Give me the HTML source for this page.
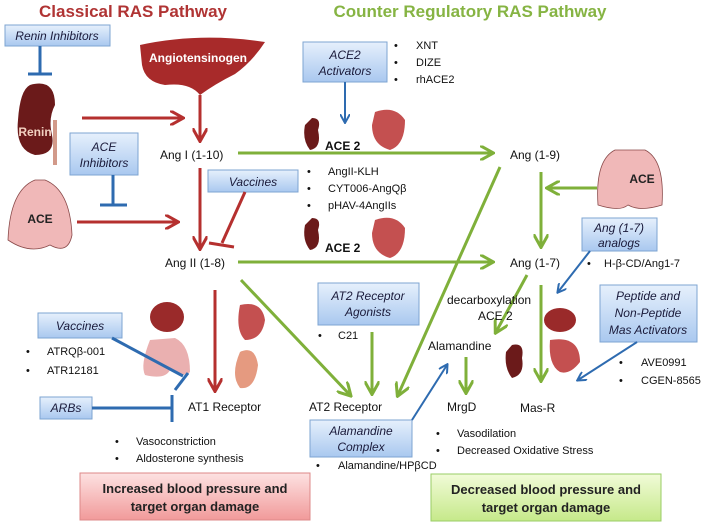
<!DOCTYPE html>
<html><head><meta charset="utf-8"><style>
html,body{margin:0;padding:0;background:#fff;}
svg{display:block;font-family:"Liberation Sans",sans-serif;}
</style></head><body>
<svg width="708" height="524" viewBox="0 0 708 524" xmlns="http://www.w3.org/2000/svg">
<defs>
<linearGradient id="bb" x1="0" y1="0" x2="0" y2="1"><stop offset="0" stop-color="#e6f0fc"/><stop offset="1" stop-color="#a9c8ef"/></linearGradient>
<linearGradient id="pk" x1="0" y1="0" x2="0" y2="1"><stop offset="0" stop-color="#fde2e2"/><stop offset="1" stop-color="#f19a9a"/></linearGradient>
<linearGradient id="gr" x1="0" y1="0" x2="0" y2="1"><stop offset="0" stop-color="#f1fbd8"/><stop offset="1" stop-color="#c6e98a"/></linearGradient>
<marker id="ar" viewBox="0 0 10 10" refX="8" refY="5" markerWidth="5" markerHeight="5" orient="auto"><path d="M0,0 L9,5 L0,10" fill="none" stroke="#b5302f" stroke-width="2"/></marker>
<marker id="ag" viewBox="0 0 10 10" refX="8" refY="5" markerWidth="5" markerHeight="5" orient="auto"><path d="M0,0 L9,5 L0,10" fill="none" stroke="#7fb03a" stroke-width="2"/></marker>
<marker id="ab" viewBox="0 0 10 10" refX="8" refY="5" markerWidth="5" markerHeight="5" orient="auto"><path d="M0,0 L9,5 L0,10" fill="none" stroke="#2e6bb0" stroke-width="2"/></marker>
</defs>
<g font-weight="bold" font-size="17">
<text x="133" y="17" text-anchor="middle" fill="#b03434">Classical RAS Pathway</text>
<text x="470" y="17" text-anchor="middle" fill="#86b443">Counter Regulatory RAS Pathway</text>
</g>
<!-- organs -->
<path d="M140,45 Q200,32 265,42 Q252,62 235,74 Q215,84 200,95 Q190,82 165,85 Q145,82 142,65 Z" fill="#a82a2a"/>
<text x="198" y="62" text-anchor="middle" font-size="12" fill="#fff" font-weight="bold">Angiotensinogen</text>
<path d="M30,85 Q55,78 55,105 Q48,118 52,135 Q56,155 35,155 Q15,150 18,120 Q20,90 30,85 Z" fill="#6b1a1a"/>
<rect x="53" y="120" width="4" height="45" fill="#d29a8a"/>
<text x="35" y="136" text-anchor="middle" font-size="12" fill="#f2d0c0" font-weight="bold">Renin</text>
<path d="M35,180 Q10,190 8,240 Q30,255 50,245 Q68,255 72,235 Q70,190 45,180 Z" fill="#f0b8b8" stroke="#8a4a4a" stroke-width="0.8"/>
<text x="40" y="223" text-anchor="middle" font-size="12" font-weight="bold" fill="#222">ACE</text>
<path d="M615,150 Q595,160 598,205 Q620,212 628,205 Q640,212 662,205 Q665,160 645,150 Z" fill="#f0b8b8" stroke="#8a4a4a" stroke-width="0.8"/>
<text x="642" y="183" text-anchor="middle" font-size="12" font-weight="bold" fill="#222">ACE</text>
<path d="M312,118 Q322,118 318,130 Q322,148 310,150 Q302,140 305,125 Z" fill="#6b1a1a"/>
<path d="M375,112 Q395,105 405,120 Q405,145 390,150 Q372,145 372,125 Z" fill="#c45050"/>
<path d="M312,218 Q322,218 318,230 Q322,248 310,250 Q302,240 305,225 Z" fill="#6b1a1a"/>
<path d="M375,220 Q395,213 405,228 Q405,253 390,258 Q372,253 372,233 Z" fill="#c45050"/>
<path d="M512,345 Q525,342 522,358 Q525,375 512,378 Q504,368 506,352 Z" fill="#6b1a1a"/>
<ellipse cx="560" cy="320" rx="16" ry="12" fill="#9a2a2a"/>
<path d="M550,340 Q580,335 580,362 Q570,375 560,372 Q548,365 550,340 Z" fill="#c45050"/>
<ellipse cx="167" cy="317" rx="17" ry="15" fill="#9a2a2a"/>
<path d="M150,340 Q140,365 145,375 Q165,380 170,370 Q185,378 190,372 Q190,345 175,338 Z" fill="#eab0b0"/>
<path d="M240,305 Q262,300 265,320 Q262,340 245,340 Q235,330 240,305 Z" fill="#c45050"/>
<path d="M240,352 Q255,345 258,365 Q255,390 240,388 Q230,375 240,352 Z" fill="#e59a80"/>
<!-- blue boxes -->
<g fill="url(#bb)" stroke="#7ea4d2" stroke-width="1">
<rect x="5" y="25" width="105" height="21"/>
<rect x="70" y="133" width="68" height="42"/>
<rect x="208" y="170" width="90" height="22"/>
<rect x="303" y="42" width="84" height="40"/>
<rect x="582" y="218" width="75" height="33"/>
<rect x="318" y="283" width="101" height="42"/>
<rect x="600" y="285" width="97" height="57"/>
<rect x="310" y="420" width="102" height="37"/>
<rect x="38" y="313" width="84" height="25"/>
<rect x="40" y="397" width="52" height="22"/>
</g>
<g font-style="italic" font-size="12" fill="#1a1a3a" text-anchor="middle">
<text x="57" y="40">Renin Inhibitors</text>
<text x="104" y="151">ACE</text><text x="104" y="167">Inhibitors</text>
<text x="253" y="186">Vaccines</text>
<text x="345" y="59">ACE2</text><text x="345" y="75">Activators</text>
<text x="619" y="232">Ang (1-7)</text><text x="619" y="247">analogs</text>
<text x="368" y="300">AT2 Receptor</text><text x="368" y="316">Agonists</text>
<text x="648" y="300">Peptide and</text><text x="648" y="317">Non-Peptide</text><text x="648" y="334">Mas Activators</text>
<text x="361" y="435">Alamandine</text><text x="361" y="451">Complex</text>
<text x="80" y="330">Vaccines</text>
<text x="66" y="412">ARBs</text>
</g>
<!-- result boxes -->
<rect x="80" y="473" width="230" height="47" fill="url(#pk)" stroke="#d88" />
<rect x="431" y="474" width="230" height="47" fill="url(#gr)" stroke="#9c6" />
<g font-weight="bold" font-size="13" fill="#222" text-anchor="middle">
<text x="195" y="493">Increased blood pressure and</text><text x="195" y="511">target organ damage</text>
<text x="546" y="494">Decreased blood pressure and</text><text x="546" y="512">target organ damage</text>
</g>
<!-- red arrows -->
<g stroke="#b5302f" stroke-width="3" fill="none">
<line x1="82" y1="118" x2="182" y2="118" marker-end="url(#ar)"/>
<line x1="77" y1="222" x2="177" y2="222" marker-end="url(#ar)"/>
<line x1="200" y1="95" x2="200" y2="140" marker-end="url(#ar)"/>
<line x1="200" y1="168" x2="200" y2="248" marker-end="url(#ar)"/>
<line x1="245" y1="192" x2="222" y2="243"/>
<line x1="209" y1="243" x2="234" y2="247"/>
<line x1="215" y1="290" x2="215" y2="390" marker-end="url(#ar)"/>
</g>
<!-- blue -->
<g stroke="#2e6bb0" stroke-width="3" fill="none">
<line x1="40" y1="46" x2="40" y2="74"/><line x1="28" y1="74" x2="52" y2="74"/>
<line x1="113" y1="175" x2="113" y2="205"/><line x1="100" y1="205" x2="127" y2="205"/>
<line x1="92" y1="408" x2="172" y2="408"/><line x1="172" y1="395" x2="172" y2="422"/>
<line x1="112" y1="338" x2="183" y2="376"/><line x1="175" y1="390" x2="188" y2="373"/>
</g>
<g stroke="#2e6bb0" stroke-width="2" fill="none">
<line x1="345" y1="82" x2="345" y2="122" marker-end="url(#ab)"/>
<line x1="590" y1="251" x2="558" y2="292" marker-end="url(#ab)"/>
<line x1="637" y1="342" x2="578" y2="380" marker-end="url(#ab)"/>
<line x1="412" y1="420" x2="447" y2="365" marker-end="url(#ab)"/>
</g>
<!-- green -->
<g stroke="#7fb03a" stroke-width="3" fill="none">
<line x1="238" y1="153" x2="492" y2="153" marker-end="url(#ag)"/>
<line x1="238" y1="262" x2="492" y2="262" marker-end="url(#ag)"/>
<line x1="541" y1="172" x2="541" y2="246" marker-end="url(#ag)"/>
<line x1="597" y1="188" x2="548" y2="188" marker-end="url(#ag)"/>
<line x1="500" y1="167" x2="398" y2="395" marker-end="url(#ag)"/>
<line x1="241" y1="280" x2="350" y2="395" marker-end="url(#ag)"/>
<line x1="372" y1="332" x2="372" y2="393" marker-end="url(#ag)"/>
<line x1="527" y1="275" x2="496" y2="332" marker-end="url(#ag)"/>
<line x1="541" y1="285" x2="541" y2="380" marker-end="url(#ag)"/>
<line x1="466" y1="357" x2="466" y2="392" marker-end="url(#ag)"/>
</g>
<!-- labels -->
<g font-size="12" fill="#111">
<text x="160" y="159">Ang I (1-10)</text>
<text x="165" y="267">Ang II (1-8)</text>
<text x="510" y="159">Ang (1-9)</text>
<text x="510" y="267">Ang (1-7)</text>
<text x="428" y="350">Alamandine</text>
<text x="447" y="411">MrgD</text>
<text x="520" y="412">Mas-R</text>
<text x="188" y="411">AT1 Receptor</text>
<text x="309" y="411">AT2 Receptor</text>
<text x="447" y="304">decarboxylation</text>
<text x="478" y="320">ACE 2</text>
<text x="325" y="150" font-weight="bold">ACE 2</text>
<text x="325" y="252" font-weight="bold">ACE 2</text>
</g>
<g font-size="11" fill="#111">
<text x="394" y="49">•</text><text x="416" y="49">XNT</text>
<text x="394" y="66">•</text><text x="416" y="66">DIZE</text>
<text x="394" y="83">•</text><text x="416" y="83">rhACE2</text>
<text x="307" y="175">•</text><text x="328" y="175">AngII-KLH</text>
<text x="307" y="192">•</text><text x="328" y="192">CYT006-AngQβ</text>
<text x="307" y="209">•</text><text x="328" y="209">pHAV-4AngIIs</text>
<text x="587" y="267">•</text><text x="604" y="267">H-β-CD/Ang1-7</text>
<text x="318" y="339">•</text><text x="338" y="339">C21</text>
<text x="619" y="366">•</text><text x="641" y="366">AVE0991</text>
<text x="619" y="384">•</text><text x="641" y="384">CGEN-8565</text>
<text x="26" y="355">•</text><text x="47" y="355">ATRQβ-001</text>
<text x="26" y="374">•</text><text x="47" y="374">ATR12181</text>
<text x="115" y="445">•</text><text x="136" y="445">Vasoconstriction</text>
<text x="115" y="462">•</text><text x="136" y="462">Aldosterone synthesis</text>
<text x="436" y="437">•</text><text x="457" y="437">Vasodilation</text>
<text x="436" y="454">•</text><text x="457" y="454">Decreased Oxidative Stress</text>
<text x="316" y="469">•</text><text x="338" y="469">Alamandine/HPβCD</text>
</g>
</svg>
</body></html>
